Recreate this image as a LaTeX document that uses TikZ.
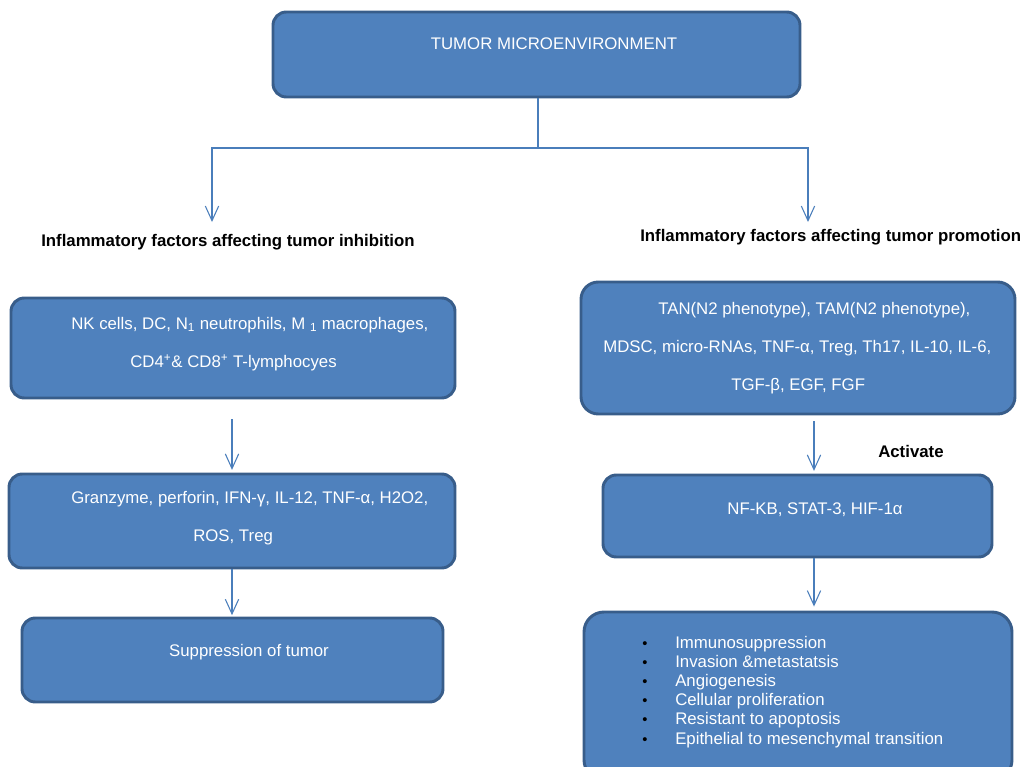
\documentclass[tikz,border=0pt]{standalone}
\usepackage{fontspec}
\setmainfont{Liberation Sans}
\usetikzlibrary{arrows.meta,calc,fit}
\definecolor{boxfill}{HTML}{4F81BD}
\definecolor{boxline}{HTML}{385D8A}
\definecolor{conn}{HTML}{4A7EBB}
\tikzset{
 blk/.style={draw=boxline, fill=boxfill, line width=2.2pt, rounded corners=10pt, inner sep=0pt},
 wt/.style={text=white, font=\fontsize{12.6}{14}\selectfont, anchor=base west, inner sep=0pt},
 hd/.style={text=black, font=\fontsize{12.6}{14}\selectfont\bfseries, anchor=base west, inner sep=0pt},
 bul/.style={text=black, font=\fontsize{11}{12}\selectfont, anchor=base, inner sep=0pt},
 ln/.style={draw=conn, line width=0.8pt},
 arr/.style={ln, -{Straight Barb[length=11pt,width=10pt]}}
}
\begin{document}
\begin{tikzpicture}[x=0.75pt,y=-0.75pt]
\useasboundingbox (0,0) rectangle (1025,767);
\clip (0,0) rectangle (1025,767);
% boxes
\node[blk, fit={(273,12) (800,97)}] (top) {};
\node[blk, fit={(11,298) (455,398)}] (L1) {};
\node[blk, fit={(9,474) (455,568)}] (L2) {};
\node[blk, fit={(22,618) (443,702)}] (L3) {};
\node[blk, rounded corners=13pt, fit={(581,282) (1015,414)}] (R1) {};
\node[blk, fit={(603,475) (992,557)}] (R2) {};
\node[blk, rounded corners=15pt, fit={(584,612) (1012,780)}] (R3) {};
% texts
\node[wt, anchor=base] (topt) at (554,50) {TUMOR MICROENVIRONMENT};
\node[hd] (hL) at (41,246) {Inflammatory factors affecting tumor inhibition};
\node[hd] (hR) at (640,241) {Inflammatory factors affecting tumor promotion};
\node[wt] (L1a) at (71,329) {NK cells, DC, N\textsubscript{1} neutrophils, M \textsubscript{1} macrophages,};
\node[wt] (L1b) at (130,367) {CD4\textsuperscript{+}\& CD8\textsuperscript{+} T-lymphocyes};
\node[wt] (L2a) at (71,503) {Granzyme, perforin, IFN-γ, IL-12, TNF-α, H2O2,};
\node[wt] (L2b) at (193,541) {ROS, Treg};
\node[wt, anchor=base] (L3a) at (249,656) {Suppression of tumor};
\node[wt] (R1a) at (658,314) {TAN(N2 phenotype), TAM(N2 phenotype),};
\node[wt] (R1b) at (603,352) {MDSC, micro-RNAs, TNF-α, Treg, Th17, IL-10, IL-6,};
\node[wt] (R1c) at (731,390) {TGF-β, EGF, FGF};
\node[hd] (act) at (878,457) {Activate};
\node[wt, anchor=base] (R2a) at (815,514) {NF-KB, STAT-3, HIF-1α};
\foreach \t [count=\i from 0] in {Immunosuppression, Invasion \&metastatsis, Angiogenesis, Cellular proliferation, Resistant to apoptosis, Epithelial to mesenchymal transition}{
  \node[bul] (b\i) at (645,{648+19.2*\i}) {•};
  \node[wt] (r\i) at (675,{648+19.2*\i}) {\t};
}
% connectors
\coordinate (j) at (538,148);
\coordinate (tipL) at (212,222);
\coordinate (tipR) at (808,222);
\coordinate (ax) at (814,0);
\coordinate (lx) at (232,0);
\draw[ln] (top.south -| j) -- (j);
\draw[arr] (j) -| (tipL);
\draw[arr] (j) -| (tipR);
\draw[arr, shorten <=15pt, shorten >=2pt] (L1.south -| lx) -- (L2.north -| lx);
\draw[arr, shorten >=1pt] (L2.south -| lx) -- (L3.north -| lx);
\draw[arr, shorten <=4.5pt, shorten >=2pt] (R1.south -| ax) -- (R2.north -| ax);
\draw[arr, shorten >=3pt] (R2.south -| ax) -- (R3.north -| ax);
\end{tikzpicture}
\end{document}
